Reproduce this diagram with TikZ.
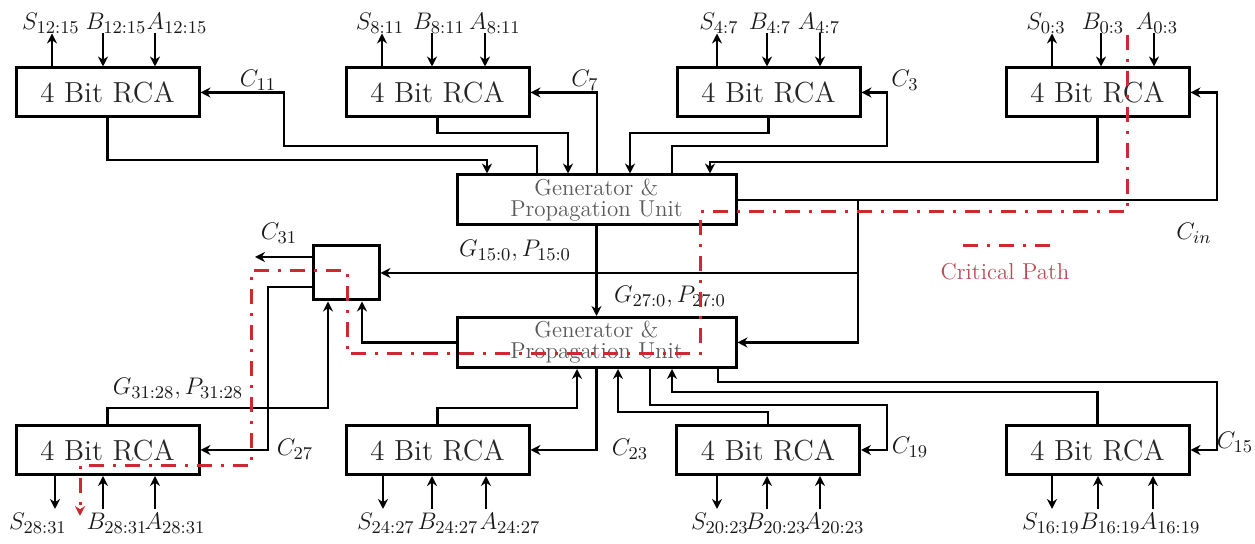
\documentclass[tikz,border=0pt]{standalone}
\usetikzlibrary{arrows.meta}
\definecolor{critred}{RGB}{206,40,50}
\definecolor{crittext}{RGB}{190,75,85}
\begin{document}
\begin{tikzpicture}[x=0.5pt,y=-0.5pt,
  wire/.style={line width=1.4pt, draw=black},
  arr/.style={wire, -{Stealth[length=5pt,width=5pt]}},
  arrin/.style={wire, {Stealth[length=5pt,width=5pt]}-},
  rca/.style={draw, line width=1.5pt, minimum width=91.5pt, minimum height=24.5pt,
    inner sep=0pt, font=\fontsize{14.5}{16}\selectfont, text=black!85},
  gpu/.style={draw, line width=1.5pt, minimum width=139.5pt, minimum height=25pt,
    inner sep=0pt, align=center, font=\fontsize{11.5}{10.5}\selectfont, text=black!65},
  cbox/.style={draw, line width=1.5pt, minimum width=33pt, minimum height=27pt, inner sep=0pt},
  lbl/.style={inner sep=0pt, anchor=base, font=\fontsize{12.5}{14}\selectfont, text=black!90},
  pinlbl/.style={lbl, font=\fontsize{13}{15}\selectfont},
  critpath/.style={line width=1.5pt, draw=critred, dash pattern=on 7.5pt off 4.5pt on 1.5pt off 4.5pt},
]
\useasboundingbox (0,0) rectangle (1255,544);

% ripple-carry adder blocks
\node[rca] (r1) at (107.5,92.5) {4 Bit RCA};
\node[rca] (r2) at (437.5,92.5) {4 Bit RCA};
\node[rca] (r3) at (768.5,92.5) {4 Bit RCA};
\node[rca] (r4) at (1097.5,92.5) {4 Bit RCA};
\node[rca] (r5) at (107.5,450) {4 Bit RCA};
\node[rca] (r6) at (437.5,450) {4 Bit RCA};
\node[rca] (r7) at (768,450) {4 Bit RCA};
\node[rca] (r8) at (1097.5,450) {4 Bit RCA};

% generate / propagate units and final carry block
\node[gpu] (g1) at (596.5,200) {Generator \&\\Propagation Unit};
\node[gpu] (g2) at (596.5,342.5) {Generator \&\\Propagation Unit};
\node[cbox] (cu) at (346,273) {};

% operand and sum pins
\foreach \n/\s/\b/\a in {r1/52/103/155, r2/382/432/485, r3/717/767/820, r4/1052/1101/1154}{
  \draw[arr] (\n.north -| \s,0) -- ++(0,-33);
  \draw[arrin] (\n.north -| \b,0) -- ++(0,-33);
  \draw[arrin] (\n.north -| \a,0) -- ++(0,-33);
}
\foreach \n/\s/\b/\a in {r5/55/103/155, r6/383/432/486, r7/717/767/820, r8/1052/1098/1153}{
  \draw[arr] (\n.south -| \s,0) -- ++(0,33);
  \draw[arrin] (\n.south -| \b,0) -- ++(0,33);
  \draw[arrin] (\n.south -| \a,0) -- ++(0,33);
}

% upper half wiring
\draw[arr] (r1.south) |- (487,160) -- (g1.north -| 487,0);
\draw[arr] (g1.north -| 537,0) |- (284,146) |- (r1.east);
\draw[arr] (r2.south) |- (568,133) -- (g1.north -| 568,0);
\draw[arr] (g1.north -| 597,0) |- (r2.east);
\draw[arr] (r3.south) |- (630,133) -- (g1.north -| 630,0);
\draw[arr] (g1.north -| 672,0) |- (887,146) |- (r3.east);
\draw[arr] (r4.south) |- (710,162) -- (g1.north -| 710,0);
\draw[arr] (g1.east) -| (1217,150) |- (r4.east);

% carry-in branches
\coordinate (cj) at (858,200);
\coordinate (cj2) at (858,273);
\draw[arr] (cj) |- (g2.east);
\draw[arr] (cj2) -- (cu.east);
\draw[arr] (g1.south) -- (g2.north);

% lower half wiring
\draw[arr] (g2.west) -| (cu.south -| 362,0);
\draw[arr] (r5.north) |- (328,408) -- (cu.south -| 328,0);
\draw[arr] (cu.west |- 0,287) -| (268,420) |- (r5.east);
\coordinate (c31end) at (255,257);
\draw[arr] (cu.west |- c31end) -- (c31end);
\draw[arr] (r6.north) |- (577,408) -- (g2.south -| 577,0);
\draw[arr] (g2.south) |- (r6.east);
\draw[arr] (r7.north) |- (618,412) -- (g2.south -| 618,0);
\draw[arr] (g2.south -| 650,0) |- (887,405) |- (r7.east);
\draw[arr] (r8.north) |- (672,392) -- (g2.south -| 672,0);
\draw[arr] (g2.south -| 718,0) |- (1217,382) |- (r8.east);

% pin labels
\node[pinlbl] at (51,30) {$S_{12:15}$};
\node[pinlbl] at (116,30) {$B_{12:15}$};
\node[pinlbl] at (177,30) {$A_{12:15}$};
\node[pinlbl] at (380,30) {$S_{8:11}$};
\node[pinlbl] at (439,30) {$B_{8:11}$};
\node[pinlbl] at (495,30) {$A_{8:11}$};
\node[pinlbl] at (719,30) {$S_{4:7}$};
\node[pinlbl] at (770,30) {$B_{4:7}$};
\node[pinlbl] at (819,30) {$A_{4:7}$};
\node[pinlbl] at (1046,30) {$S_{0:3}$};
\node[pinlbl] at (1103,30) {$B_{0:3}$};
\node[pinlbl] at (1157,30) {$A_{0:3}$};

\node[pinlbl] at (38,530) {$S_{28:31}$};
\node[pinlbl] at (117,530) {$B_{28:31}$};
\node[pinlbl] at (175,530) {$A_{28:31}$};
\node[pinlbl] at (386,530) {$S_{24:27}$};
\node[pinlbl] at (448,530) {$B_{24:27}$};
\node[pinlbl] at (510,530) {$A_{24:27}$};
\node[pinlbl] at (720,530) {$S_{20:23}$};
\node[pinlbl] at (776,530) {$B_{20:23}$};
\node[pinlbl] at (834,530) {$A_{20:23}$};
\node[pinlbl] at (1051,530) {$S_{16:19}$};
\node[pinlbl] at (1110,530) {$B_{16:19}$};
\node[pinlbl] at (1170,530) {$A_{16:19}$};

% carry and group signal labels
\node[lbl] at (258,87) {$C_{11}$};
\node[lbl] at (585,87) {$C_{7}$};
\node[lbl] at (905,87) {$C_{3}$};
\node[lbl] at (1194,240) {$C_{in}$};
\node[lbl] at (279,240) {$C_{31}$};
\node[lbl] at (295,456) {$C_{27}$};
\node[lbl] at (630,456) {$C_{23}$};
\node[lbl] at (910,454) {$C_{19}$};
\node[lbl] at (1235,449) {$C_{15}$};
\node[lbl] at (515,257) {$G_{15:0}, P_{15:0}$};
\node[lbl] at (670,303) {$G_{27:0}, P_{27:0}$};
\node[lbl] at (178,395) {$G_{31:28}, P_{31:28}$};

% critical path overlay
\draw[critpath, -{Stealth[length=5pt,width=5pt]}]
  (1127,35) -- (1127,212) -- (700,212) -- (700,354) -- (347,354)
  -- (347,271) -- (251,271) -- (251,466) -- (80,466) -- (80,516);

% legend
\draw[critpath] (963,246) -- (1052,246);
\node[inner sep=0pt, anchor=base, text=crittext, font=\fontsize{11.5}{13}\selectfont] at (1005,280) {Critical Path};
\end{tikzpicture}
\end{document}
